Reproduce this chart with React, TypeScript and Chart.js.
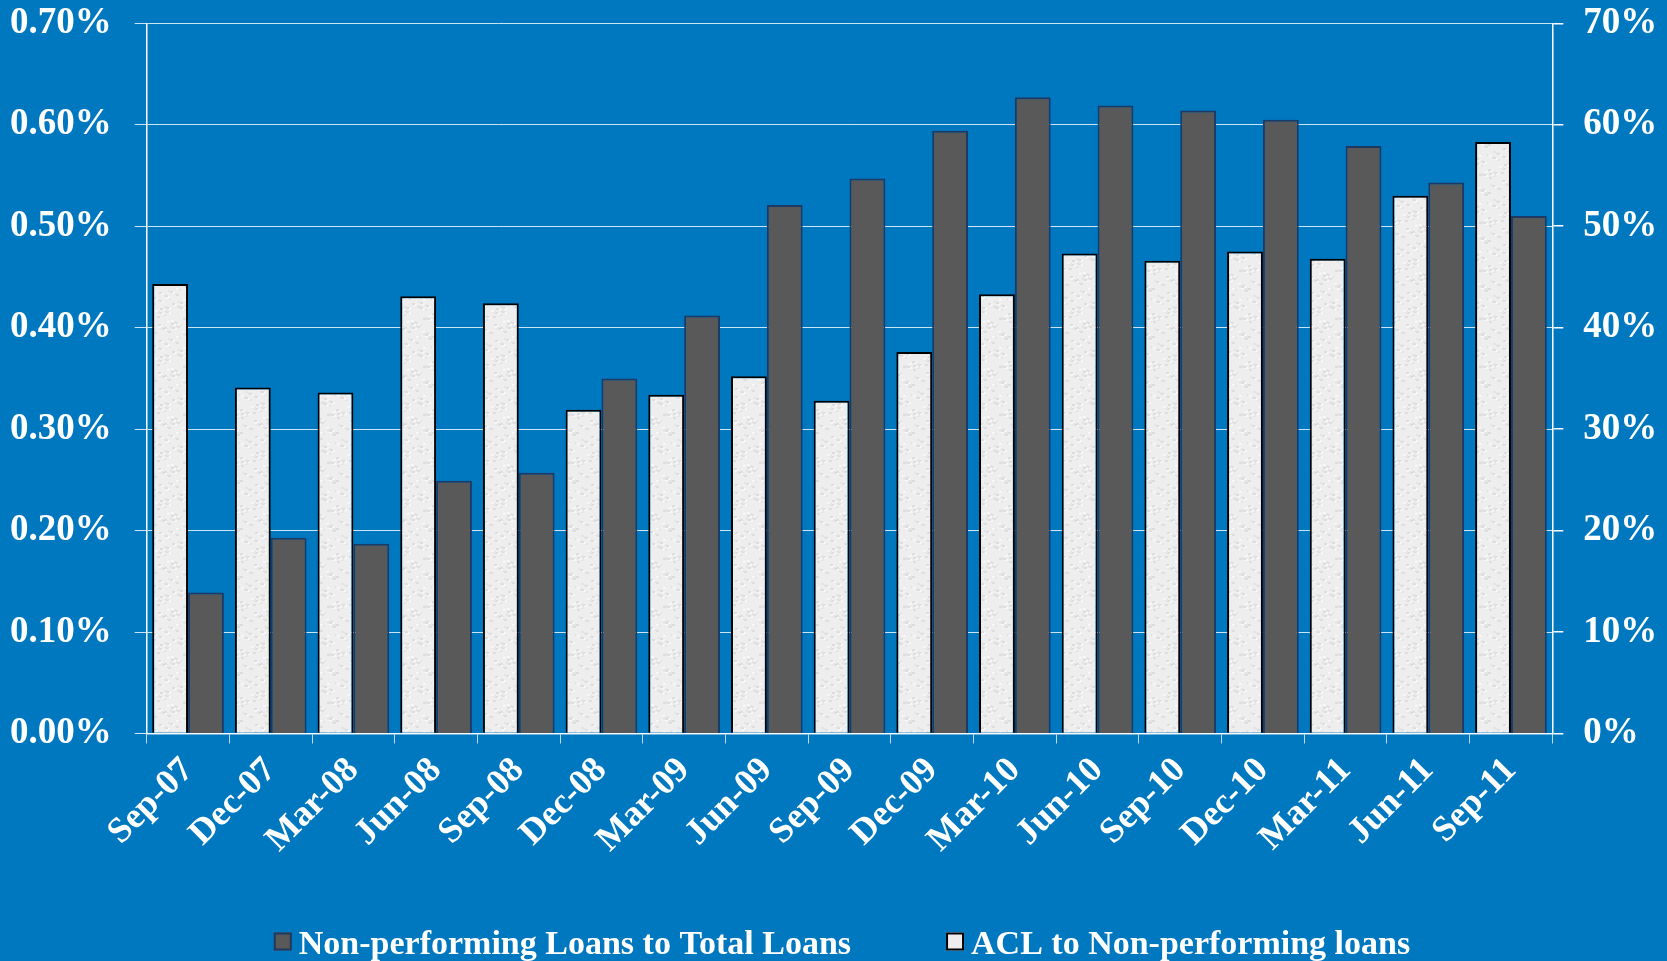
import React, { useEffect, useRef } from "react";
import { Chart, registerables } from "chart.js";

Chart.register(...registerables);

const categories = [
  "Sep-07", "Dec-07", "Mar-08", "Jun-08", "Sep-08", "Dec-08", "Mar-09", "Jun-09", "Sep-09",
  "Dec-09", "Mar-10", "Jun-10", "Sep-10", "Dec-10", "Mar-11", "Jun-11", "Sep-11",
];

// Non-performing Loans to Total Loans (%), left axis
const nplToTotalLoans = [
  0.139, 0.193, 0.187, 0.249, 0.257, 0.35, 0.412, 0.521, 0.547,
  0.594, 0.627, 0.619, 0.614, 0.605, 0.579, 0.543, 0.51,
];

// ACL to Non-performing loans (%), right axis
const aclToNpl = [
  44.3, 34.1, 33.6, 43.1, 42.4, 31.9, 33.4, 35.2, 32.8,
  37.6, 43.3, 47.3, 46.6, 47.5, 46.8, 53.0, 58.3,
];

const leftTicks = [0, 0.1, 0.2, 0.3, 0.4, 0.5, 0.6, 0.7];
const rightTicks = [0, 10, 20, 30, 40, 50, 60, 70];

const legendLabels = ["Non-performing Loans to Total Loans", "ACL to Non-performing loans"];

const BG = "#0078C0";
const FONT = "'Times New Roman', 'Liberation Serif', serif";
const DARK = "#595959";
const DARK_BORDER = "#1c3a63";

function makePattern(): CanvasPattern | string {
  const c = document.createElement("canvas");
  c.width = 48;
  c.height = 48;
  const g = c.getContext("2d");
  if (!g) return "#ededed";
  g.fillStyle = "#eeeeee";
  g.fillRect(0, 0, 48, 48);
  for (let i = 0; i < 120; i++) {
    const x = (i * 37 + ((i * i) % 11)) % 48;
    const y = (i * 61 + ((i * 7) % 17)) % 48;
    g.fillStyle = i % 3 === 0 ? "#dddddd" : i % 3 === 1 ? "#e5e5e5" : "#f7f7f7";
    g.fillRect(x, y, 3, 2);
  }
  const p = g.createPattern(c, "repeat");
  return p || "#ededed";
}

const bgPlugin = {
  id: "bgFill",
  beforeDraw(chart: any) {
    const { ctx, width, height } = chart;
    ctx.save();
    ctx.fillStyle = BG;
    ctx.fillRect(0, 0, width, height);
    ctx.restore();
  },
};

const legendPlugin = {
  id: "customLegend",
  afterDraw(chart: any) {
    const ctx = chart.ctx;
    ctx.save();
    ctx.font = `bold 34px ${FONT}`;
    const w1 = ctx.measureText(legendLabels[0]).width;
    const w2 = ctx.measureText(legendLabels[1]).width;
    const box = 18;
    const gapBoxText = 7;
    const gapItems = 95;
    const total = box + gapBoxText + w1 + gapItems + box + gapBoxText + w2;
    let x = 842 - total / 2;
    const yc = 941.5;
    const baseline = 954;
    // item 1
    ctx.fillStyle = DARK;
    ctx.fillRect(x, yc - box / 2, box, box);
    ctx.strokeStyle = DARK_BORDER;
    ctx.lineWidth = 2;
    ctx.strokeRect(x + 1, yc - box / 2 + 1, box - 2, box - 2);
    x += box + gapBoxText;
    ctx.fillStyle = "#ffffff";
    ctx.textBaseline = "alphabetic";
    ctx.textAlign = "left";
    ctx.fillText(legendLabels[0], x, baseline);
    x += w1 + gapItems;
    // item 2
    ctx.fillStyle = "#eeeeee";
    ctx.fillRect(x, yc - box / 2, box, box);
    ctx.strokeStyle = "#000000";
    ctx.lineWidth = 2;
    ctx.strokeRect(x + 1, yc - box / 2 + 1, box - 2, box - 2);
    x += box + gapBoxText;
    ctx.fillStyle = "#ffffff";
    ctx.fillText(legendLabels[1], x, baseline);
    ctx.restore();
  },
};

export default function App() {
  const ref = useRef<HTMLCanvasElement | null>(null);

  useEffect(() => {
    document.body.style.margin = "0";
    document.body.style.background = BG;
    const canvas = ref.current;
    if (!canvas) return;
    const pattern = makePattern();
    const chart = new Chart(canvas, {
      type: "bar",
      data: {
        labels: categories,
        datasets: [
          {
            label: legendLabels[1],
            data: aclToNpl,
            yAxisID: "yRight",
            backgroundColor: pattern as any,
            borderColor: "#000000",
            borderWidth: 2,
            categoryPercentage: 0.867,
            barPercentage: 1.0,
          },
          {
            label: legendLabels[0],
            data: nplToTotalLoans,
            yAxisID: "yLeft",
            backgroundColor: DARK,
            borderColor: DARK_BORDER,
            borderWidth: 2,
            categoryPercentage: 0.867,
            barPercentage: 1.0,
          },
        ],
      },
      options: {
        animation: false,
        responsive: true,
        maintainAspectRatio: false,
        layout: { padding: { top: 23.3, left: 0, right: 0, bottom: 0 } },
        plugins: {
          legend: { display: false },
          tooltip: { enabled: false },
          title: { display: false },
        },
        scales: {
          x: {
            type: "category",
            offset: true,
            grid: {
              offset: true,
              drawOnChartArea: false,
              drawTicks: true,
              tickLength: 10,
              color: "rgba(255,255,255,0.75)",
              lineWidth: 1,
            },
            border: { display: true, color: "rgba(255,255,255,0.85)", width: 1.5 },
            ticks: {
              autoSkip: false,
              maxRotation: 45,
              minRotation: 45,
              padding: 6,
              color: "#ffffff",
              font: { family: FONT, size: 36, weight: "bold" },
            },
            afterFit(scale: any) {
              scale.height = 227.5;
              scale.paddingLeft = 0;
              scale.paddingRight = 0;
            },
          },
          yLeft: {
            type: "linear",
            position: "left",
            min: 0,
            max: 0.7,
            afterBuildTicks(scale: any) {
              scale.ticks = leftTicks.map((v) => ({ value: v }));
            },
            grid: {
              drawOnChartArea: true,
              tickLength: 12,
              color: "rgba(255,255,255,0.8)",
              lineWidth: 1,
            },
            border: { display: true, color: "#ffffff", width: 1.5 },
            ticks: {
              padding: 23,
              color: "#ffffff",
              font: { family: FONT, size: 37, weight: "bold" },
              callback: (v: any) => Number(v).toFixed(2) + "%",
            },
            afterFit(scale: any) {
              scale.width = 146.7;
              scale.paddingTop = 0;
              scale.paddingBottom = 0;
            },
          },
          yRight: {
            type: "linear",
            position: "right",
            min: 0,
            max: 70,
            afterBuildTicks(scale: any) {
              scale.ticks = rightTicks.map((v) => ({ value: v }));
            },
            grid: {
              drawOnChartArea: false,
              tickLength: 11,
              color: "#ffffff",
              lineWidth: 1.5,
            },
            border: { display: true, color: "#ffffff", width: 1.5 },
            ticks: {
              padding: 20,
              color: "#ffffff",
              font: { family: FONT, size: 37, weight: "bold" },
              callback: (v: any) => Math.round(Number(v)) + "%",
            },
            afterFit(scale: any) {
              scale.width = 114.7;
              scale.paddingTop = 0;
              scale.paddingBottom = 0;
            },
          },
        },
      } as any,
      plugins: [bgPlugin, legendPlugin],
    });
    return () => chart.destroy();
  }, []);

  return (
    <div style={{ width: 1667, height: 961, position: "relative", background: BG }}>
      <canvas ref={ref} />
    </div>
  );
}
